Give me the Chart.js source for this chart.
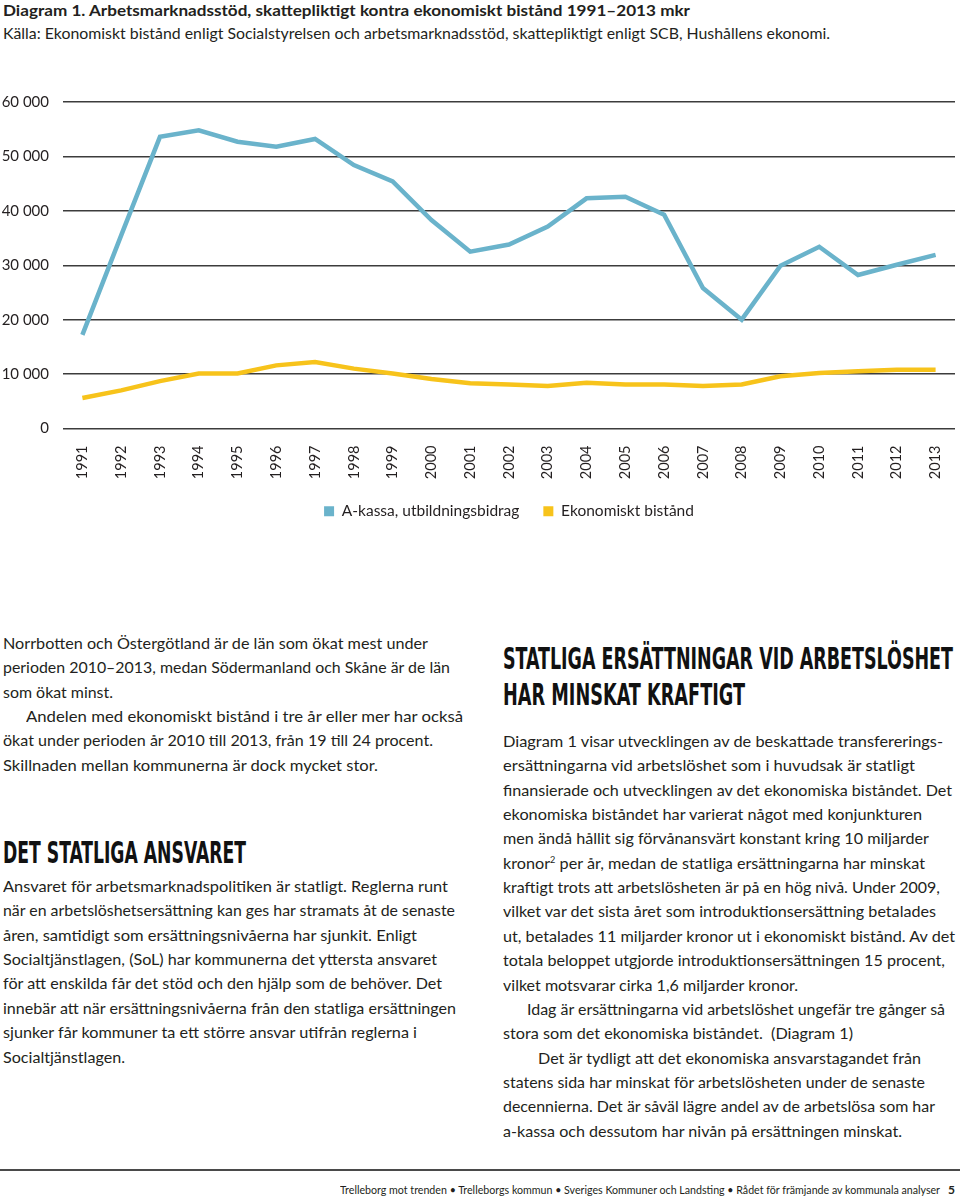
<!DOCTYPE html>
<html lang="sv"><head><meta charset="utf-8">
<script src="https://cdn.jsdelivr.net/npm/chart.js@4.4.1/dist/chart.umd.min.js"></script>
<style>
html,body{margin:0;padding:0;background:#fff;}
body{width:960px;height:1198px;position:relative;overflow:hidden;font-family:Lato,'Open Sans',sans-serif;color:#231f20;}
.abs{position:absolute;}
.fit{display:inline-block;white-space:nowrap;transform-origin:0 50%;}
.line{white-space:nowrap;height:24.4px;line-height:24.4px;font-size:16px;}
.h{font-family:'DejaVu Sans Condensed','DejaVu Sans',sans-serif;font-weight:bold;font-size:31px;line-height:31px;color:#111;white-space:nowrap;}
</style></head>
<body>
<div class="abs" style="left:3px;top:0px;font-weight:bold;font-size:16px;line-height:20px;"><span class="fit" data-w="687">Diagram 1. Arbetsmarknadsstöd, skattepliktigt kontra ekonomiskt bistånd 1991–2013 mkr</span></div>
<div class="abs" style="left:3px;top:23px;font-size:16px;line-height:20px;"><span class="fit" data-w="827">Källa: Ekonomiskt bistånd enligt Socialstyrelsen och arbetsmarknadsstöd, skattepliktigt enligt SCB, Hushållens ekonomi.</span></div>

<div class="abs" style="left:0;top:60px;width:960px;height:469px;"><canvas id="c" width="960" height="469"></canvas></div>

<div class="abs" style="left:3px;top:630.8px;">
<div class="line"><span class="fit" data-w="425">Norrbotten och Östergötland är de län som ökat mest under</span></div>
<div class="line"><span class="fit" data-w="447">perioden 2010–2013, medan Södermanland och Skåne är de län</span></div>
<div class="line"><span class="fit" data-w="110">som ökat minst.</span></div>
<div class="line" style="padding-left:23px"><span class="fit" data-w="437">Andelen med ekonomiskt bistånd i tre år eller mer har också</span></div>
<div class="line"><span class="fit" data-w="430">ökat under perioden år 2010 till 2013, från 19 till 24 procent.</span></div>
<div class="line"><span class="fit" data-w="375">Skillnaden mellan kommunerna är dock mycket stor.</span></div>
</div>

<div class="abs h" style="left:3px;top:837px;"><span class="fit" data-w="243">DET STATLIGA ANSVARET</span></div>

<div class="abs" style="left:3px;top:873.8px;">
<div class="line"><span class="fit" data-w="445">Ansvaret för arbetsmarknadspolitiken är statligt. Reglerna runt</span></div>
<div class="line"><span class="fit" data-w="452">när en arbetslöshetsersättning kan ges har stramats åt de senaste</span></div>
<div class="line"><span class="fit" data-w="414">åren, samtidigt som ersättningsnivåerna har sjunkit. Enligt</span></div>
<div class="line"><span class="fit" data-w="434">Socialtjänstlagen, (SoL) har kommunerna det yttersta ansvaret</span></div>
<div class="line"><span class="fit" data-w="439">för att enskilda får det stöd och den hjälp som de behöver. Det</span></div>
<div class="line"><span class="fit" data-w="453">innebär att när ersättningsnivåerna från den statliga ersättningen</span></div>
<div class="line"><span class="fit" data-w="414">sjunker får kommuner ta ett större ansvar utifrån reglerna i</span></div>
<div class="line"><span class="fit" data-w="122">Socialtjänstlagen.</span></div>
</div>

<div class="abs h" style="left:503px;top:643px;"><span class="fit" data-w="450">STATLIGA ERSÄTTNINGAR VID ARBETSLÖSHET</span></div>
<div class="abs h" style="left:503px;top:679px;"><span class="fit" data-w="242">HAR MINSKAT KRAFTIGT</span></div>

<div class="abs" style="left:503px;top:728.8px;">
<div class="line" style="height:24.375px;line-height:24.375px"><span class="fit" data-w="440">Diagram 1 visar utvecklingen av de beskattade transfererings-</span></div>
<div class="line" style="height:24.375px;line-height:24.375px"><span class="fit" data-w="412">ersättningarna vid arbetslöshet som i huvudsak är statligt</span></div>
<div class="line" style="height:24.375px;line-height:24.375px"><span class="fit" data-w="449">finansierade och utvecklingen av det ekonomiska biståndet. Det</span></div>
<div class="line" style="height:24.375px;line-height:24.375px"><span class="fit" data-w="419">ekonomiska biståndet har varierat något med konjunkturen</span></div>
<div class="line" style="height:24.375px;line-height:24.375px"><span class="fit" data-w="426">men ändå hållit sig förvånansvärt konstant kring 10 miljarder</span></div>
<div class="line" style="height:24.375px;line-height:24.375px"><span class="fit" data-w="422">kronor<sup style="font-size:9px;line-height:0">2</sup> per år, medan de statliga ersättningarna har minskat</span></div>
<div class="line" style="height:24.375px;line-height:24.375px"><span class="fit" data-w="437">kraftigt trots att arbetslösheten är på en hög nivå. Under 2009,</span></div>
<div class="line" style="height:24.375px;line-height:24.375px"><span class="fit" data-w="433">vilket var det sista året som introduktionsersättning betalades</span></div>
<div class="line" style="height:24.375px;line-height:24.375px"><span class="fit" data-w="452">ut, betalades 11 miljarder kronor ut i ekonomiskt bistånd. Av det</span></div>
<div class="line" style="height:24.375px;line-height:24.375px"><span class="fit" data-w="442">totala beloppet utgjorde introduktionsersättningen 15 procent,</span></div>
<div class="line" style="height:24.375px;line-height:24.375px"><span class="fit" data-w="295">vilket motsvarar cirka 1,6 miljarder kronor.</span></div>
<div class="line" style="height:24.375px;line-height:24.375px;padding-left:24px"><span class="fit" data-w="418">Idag är ersättningarna vid arbetslöshet ungefär tre gånger så</span></div>
<div class="line" style="height:24.375px;line-height:24.375px"><span class="fit" data-w="350">stora som det ekonomiska biståndet.&nbsp; (Diagram 1)</span></div>
<div class="line" style="height:24.375px;line-height:24.375px;padding-left:35px"><span class="fit" data-w="383">Det är tydligt att det ekonomiska ansvarstagandet från</span></div>
<div class="line" style="height:24.375px;line-height:24.375px"><span class="fit" data-w="422">statens sida har minskat för arbetslösheten under de senaste</span></div>
<div class="line" style="height:24.375px;line-height:24.375px"><span class="fit" data-w="432">decennierna. Det är såväl lägre andel av de arbetslösa som har</span></div>
<div class="line" style="height:24.375px;line-height:24.375px"><span class="fit" data-w="399">a-kassa och dessutom har nivån på ersättningen minskat.</span></div>
</div>

<div class="abs" style="left:0;top:1169px;width:960px;height:2px;background:#4a4a4a;"></div>
<div class="abs" style="left:340px;top:1182px;font-size:12px;line-height:16px;"><span class="fit" data-w="600">Trelleborg mot trenden • Trelleborgs kommun • Sveriges Kommuner och Landsting • Rådet för främjande av kommunala analyser</span></div>
<div class="abs" style="left:948px;top:1182px;font-size:12px;line-height:16px;font-weight:bold;">5</div>

<script>
const years = ['1991','1992','1993','1994','1995','1996','1997','1998','1999','2000','2001','2002','2003','2004','2005','2006','2007','2008','2009','2010','2011','2012','2013'];
const akassaUtbildningsbidrag = [17200, 35500, 53600, 54800, 52700, 51800, 53200, 48400, 45400, 38300, 32500, 33800, 37100, 42300, 42600, 39300, 25800, 20000, 29900, 33400, 28200, 30100, 31900];
const ekonomisktBistand = [5600, 7000, 8700, 10100, 10100, 11600, 12200, 11000, 10100, 9100, 8300, 8100, 7800, 8400, 8100, 8100, 7800, 8100, 9600, 10200, 10500, 10800, 10800];
const yTickValues = [0, 10000, 20000, 30000, 40000, 50000, 60000];
const seriesNames = ['A-kassa, utbildningsbidrag', 'Ekonomiskt bistånd'];
const seriesColors = ['#6ab3cb', '#f7c31b'];

function fmt(v){ return String(v).replace(/\B(?=(\d{3})+(?!\d))/g, ' '); }

const chart = new Chart(document.getElementById('c'), {
  type: 'line',
  data: {
    labels: years,
    datasets: [
      {label: seriesNames[0], data: akassaUtbildningsbidrag, borderColor: seriesColors[0], backgroundColor: seriesColors[0]},
      {label: seriesNames[1], data: ekonomisktBistand, borderColor: seriesColors[1], backgroundColor: seriesColors[1]}
    ]
  },
  options: {
    responsive: false,
    animation: false,
    devicePixelRatio: 1,
    layout: {padding: {top: 42, right: 5, bottom: 0, left: 0}},
    elements: {
      line: {borderWidth: 4.5, tension: 0, fill: false, borderJoinStyle: 'miter'},
      point: {radius: 0, hoverRadius: 0}
    },
    plugins: {
      tooltip: {enabled: false},
      legend: {
        position: 'bottom',
        fullSize: false,
        labels: {
          boxWidth: 10, boxHeight: 10, padding: 24,
          color: '#231f20',
          font: {family: 'Lato', size: 15.5},
          generateLabels: (ch) => Chart.defaults.plugins.legend.labels.generateLabels(ch).map(l => Object.assign(l, {lineWidth: 0}))
        }
      }
    },
    scales: {
      x: {
        type: 'category',
        offset: true,
        grid: {display: false, drawTicks: false},
        border: {display: false},
        ticks: {minRotation: 90, maxRotation: 90, autoSkip: false, padding: 17, color: '#231f20', font: {family: 'Lato', size: 14.5}},
        afterFit: (s) => { s.height = 51; s.paddingLeft = 0; s.paddingRight = 0; }
      },
      y: {
        min: 0, max: 60000,
        grid: {color: '#3c3c3c', lineWidth: 1.5, drawTicks: false},
        border: {display: false},
        ticks: {padding: 14, color: '#231f20', font: {family: 'Lato', size: 15}, callback: (v) => fmt(v)},
        afterBuildTicks: (s) => { s.ticks = yTickValues.map(v => ({value: v})); },
        afterFit: (s) => { s.width = 63; s.paddingTop = 0; s.paddingBottom = 0; }
      }
    }
  }
});

function fitAll(){
  document.querySelectorAll('.fit').forEach(el => {
    el.style.transform = 'none';
    const w = el.getBoundingClientRect().width;
    const t = +el.dataset.w;
    if (w > 0) el.style.transform = 'scaleX(' + (t / w) + ')';
  });
}
fitAll();
if (document.fonts && document.fonts.ready) document.fonts.ready.then(() => { fitAll(); chart.update(); });
</script>
</body></html>
